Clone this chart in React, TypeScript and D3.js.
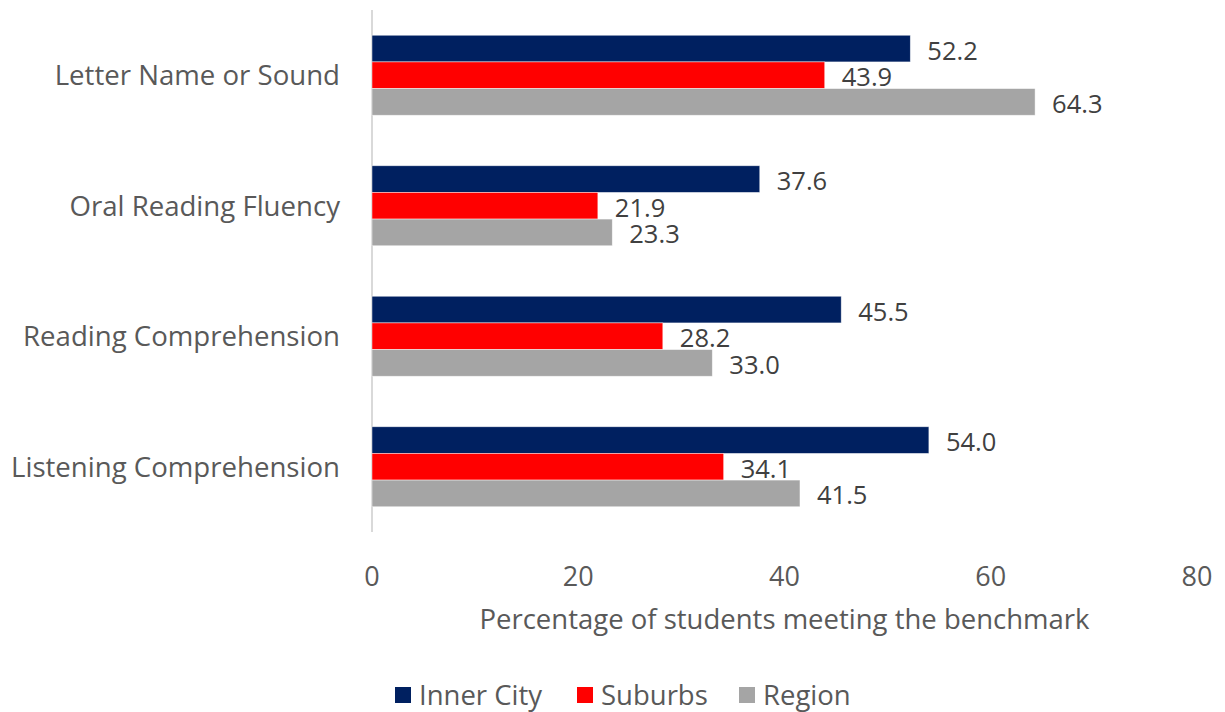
import React from "react";
import * as d3 from "d3";

const categories = [
  "Letter Name or Sound",
  "Oral Reading Fluency",
  "Reading Comprehension",
  "Listening Comprehension",
];
const seriesNames = ["Inner City", "Suburbs", "Region"];
const innerCity = [52.2, 37.6, 45.5, 54.0];
const suburbs = [43.9, 21.9, 28.2, 34.1];
const region = [64.3, 23.3, 33.0, 41.5];
const seriesValues = [innerCity, suburbs, region];
const seriesColors = ["#002060", "#FF0000", "#A5A5A5"];
const xTicks = [0, 20, 40, 60, 80];
const axisTitle = "Percentage of students meeting the benchmark";

const W = 1225;
const H = 712;
const FONT = "'Open Sans', sans-serif";
const TEXT = "#595959";

export default function App() {
  const x = d3.scaleLinear().domain([0, 80]).range([372, 1197]);
  const y = d3
    .scaleBand<string>()
    .domain(categories)
    .range([10, 532])
    .paddingInner(0.387)
    .paddingOuter(0.1935);
  const inner = d3
    .scaleBand<string>()
    .domain(seriesNames)
    .range([0, y.bandwidth()])
    .padding(0);

  const legendItems = [
    { name: seriesNames[0], sx: 395, tx: 419 },
    { name: seriesNames[1], sx: 577, tx: 601 },
    { name: seriesNames[2], sx: 739, tx: 763 },
  ];

  return (
    <svg
      width={W}
      height={H}
      style={{ position: "absolute", left: 0, top: 0, display: "block", background: "#fff" }}
      fontFamily={FONT}
    >
      <line x1={x(0)} x2={x(0)} y1={10} y2={532} stroke="#D9D9D9" strokeWidth={2} />

      {categories.map((c, ci) => (
        <g key={c}>
          <text
            x={340}
            y={(y(c) as number) + y.bandwidth() / 2 - 1}
            textAnchor="end"
            dominantBaseline="central"
            fontSize={27.6}
            fill={TEXT}
          >
            {c}
          </text>
          {seriesNames.map((s, si) => {
            const v = seriesValues[si][ci];
            const by = (y(c) as number) + (inner(s) as number);
            const bh = inner.bandwidth();
            return (
              <g key={s}>
                <rect
                  x={x(0)}
                  y={by}
                  width={x(v) - x(0)}
                  height={bh}
                  fill={seriesColors[si]}
                  stroke="#ffffff"
                  strokeOpacity={0.6}
                  strokeWidth={0.75}
                />
                <text
                  x={x(v) + 17}
                  y={by + bh / 2 + 1}
                  dominantBaseline="central"
                  fontSize={25.5}
                  fill="#404040"
                >
                  {v.toFixed(1)}
                </text>
              </g>
            );
          })}
        </g>
      ))}

      {xTicks.map((t) => (
        <text
          key={t}
          x={x(t)}
          y={575}
          textAnchor="middle"
          dominantBaseline="central"
          fontSize={27}
          fill={TEXT}
        >
          {t}
        </text>
      ))}

      <text
        x={(x(0) + x(80)) / 2}
        y={618}
        textAnchor="middle"
        dominantBaseline="central"
        fontSize={27.5}
        fill={TEXT}
      >
        {axisTitle}
      </text>

      {legendItems.map((l, i) => (
        <g key={l.name}>
          <rect x={l.sx} y={687} width={16} height={16} fill={seriesColors[i]} />
          <text x={l.tx} y={694} dominantBaseline="central" fontSize={27.5} fill={TEXT}>
            {l.name}
          </text>
        </g>
      ))}
    </svg>
  );
}
